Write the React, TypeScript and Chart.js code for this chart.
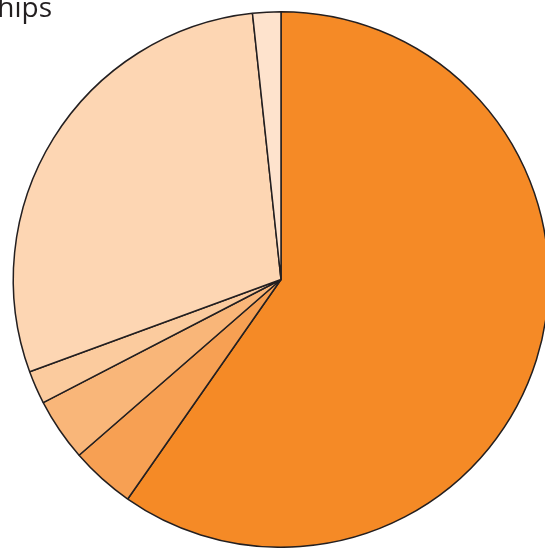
import React, { useEffect, useRef } from "react";
import { Chart, registerables } from "chart.js";

Chart.register(...registerables);

const categories: string[] = ["A", "B", "C", "D", "E", "F"];
const values: number[] = [59.7, 3.9, 3.8, 2.0, 28.9, 1.7];
const colors: string[] = ["#F58A26", "#F7A053", "#F9B679", "#FBCB9E", "#FDD6B3", "#FEE3CD"];
const titleText = "Relationships";

export default function App() {
  const ref = useRef<HTMLCanvasElement | null>(null);
  useEffect(() => {
    if (!ref.current) return;
    const chart = new Chart(ref.current, {
      type: "pie",
      data: {
        labels: categories,
        datasets: [
          {
            data: values,
            backgroundColor: colors,
            borderColor: "#231F20",
            borderWidth: 1.5,
          },
        ],
      },
      options: {
        animation: false,
        responsive: false,
        maintainAspectRatio: false,
        layout: { padding: 0 },
        plugins: {
          legend: { display: false },
          tooltip: { enabled: false },
          title: { display: false },
        },
      },
    });
    return () => chart.destroy();
  }, []);
  return (
    <div
      style={{
        position: "fixed",
        left: 0,
        top: 0,
        width: 545,
        height: 550,
        overflow: "hidden",
        background: "#ffffff",
      }}
    >
      <canvas
        ref={ref}
        width={562}
        height={537}
        style={{ position: "absolute", left: 0, top: 10.5, width: 562, height: 537 }}
      />
      <div
        style={{
          position: "absolute",
          left: -300,
          width: 352,
          top: -13,
          textAlign: "right",
          fontFamily: "'Open Sans', sans-serif",
          fontSize: 28,
          color: "#231F20",
          whiteSpace: "nowrap",
        }}
      >
        {titleText}
      </div>
    </div>
  );
}
